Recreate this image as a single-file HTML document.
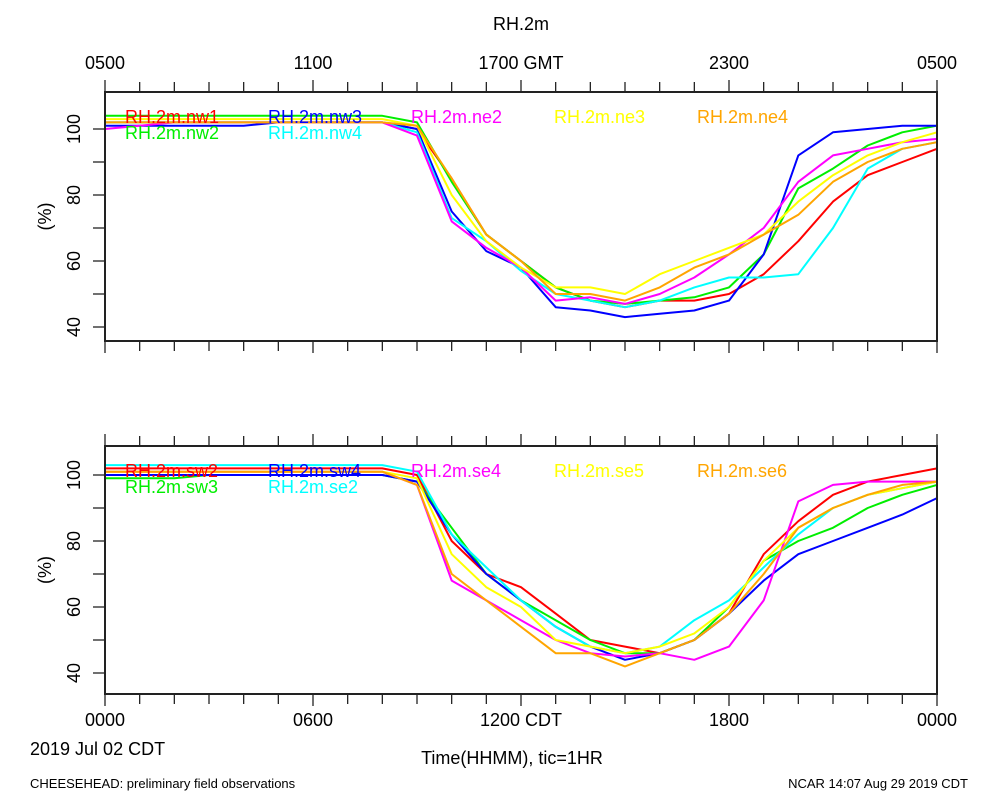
<!DOCTYPE html>
<html><head><meta charset="utf-8"><style>
html,body{margin:0;padding:0;background:#fff;}
svg{display:block;font-family:"Liberation Sans",sans-serif;}
</style></head><body>
<svg id="chart" width="1000" height="800" viewBox="0 0 1000 800" xmlns="http://www.w3.org/2000/svg">
<rect width="1000" height="800" fill="#fff"/>
<text x="521" y="30" font-size="18" text-anchor="middle">RH.2m</text>
<g id="g"></g>
<text x="30" y="755" font-size="18">2019 Jul 02 CDT</text>
<text x="512" y="764" font-size="18" text-anchor="middle">Time(HHMM), tic=1HR</text>
<text x="30" y="788" font-size="13">CHEESEHEAD: preliminary field observations</text>
<text x="968" y="788" font-size="13" text-anchor="end">NCAR 14:07 Aug 29 2019 CDT</text>
</svg>
<script>
const hours = [0,1,2,3,4,5,6,7,8,9,10,11,12,13,14,15,16,17,18,19,20,21,22,23,24];
const topNames = ["RH.2m.nw1","RH.2m.nw2","RH.2m.nw3","RH.2m.nw4","RH.2m.ne2","RH.2m.ne3","RH.2m.ne4"];
const botNames = ["RH.2m.sw2","RH.2m.sw3","RH.2m.sw4","RH.2m.se2","RH.2m.se4","RH.2m.se5","RH.2m.se6"];
const nw1 = [102,102,102,102,102,102,102,102,102,100,85,68,60,52,48,46,48,48,50,56,66,78,86,90,94];
const nw2 = [104,104,104,104,104,104,104,104,104,102,84,68,60,52,48,47,48,49,52,62,82,88,95,99,101];
const nw3 = [101,101,101,101,101,102,102,102,102,100,75,63,58,46,45,43,44,45,48,62,92,99,100,101,101];
const nw4 = [102,102,102,102,102,102,102,102,102,99,73,66,57,50,48,46,48,52,55,55,56,70,88,94,96];
const ne2 = [100,101,102,102,102,102,102,102,102,98,72,64,58,48,49,47,50,55,62,70,84,92,94,96,97];
const ne3 = [103,103,103,103,103,103,103,103,103,101,80,66,58,52,52,50,56,60,64,68,78,86,92,96,99];
const ne4 = [102,102,102,102,102,102,102,102,102,101,85,68,60,50,50,48,52,58,62,68,74,84,90,94,96];
const sw2 = [102,102,102,102,102,102,102,102,102,100,80,70,66,58,50,48,46,50,58,76,86,94,98,100,102];
const sw3 = [99,99,99,100,100,100,100,100,100,98,84,70,62,56,50,46,46,50,60,74,80,84,90,94,97];
const sw4 = [100,100,100,100,100,100,100,100,100,98,82,70,62,54,48,44,46,50,58,68,76,80,84,88,93];
const se2 = [103,103,103,103,103,103,103,103,103,101,82,72,62,54,48,46,48,56,62,72,82,90,94,96,98];
const se4 = [101,101,101,101,101,101,101,101,101,97,68,62,56,50,46,45,46,44,48,62,92,97,98,98,98];
const se5 = [101,101,101,101,101,101,101,101,101,99,76,66,60,50,48,46,48,52,60,74,84,90,94,96,98];
const se6 = [101,101,101,101,101,101,101,101,101,97,70,62,54,46,46,42,46,50,58,70,84,90,94,97,98];
const colors = ["#ff0000","#00ee00","#0000ff","#00ffff","#ff00ff","#ffff00","#ffa500"];
const topSeries = [nw1,nw2,nw3,nw4,ne2,ne3,ne4];
const botSeries = [sw2,sw3,sw4,se2,se4,se5,se6];
const yTicks = [40,60,80,100];
const xTopLabels = ["0500","1100","1700 GMT","2300","0500"];
const xBotLabels = ["0000","0600","1200 CDT","1800","0000"];

const NS = "http://www.w3.org/2000/svg";
const g = document.getElementById("g");
const X0 = 105, X1 = 937;
function xs(h){ return X0 + h*(X1-X0)/24; }
function mk(tag, attrs, parent){ const e=document.createElementNS(NS,tag); for(const k in attrs) e.setAttribute(k,attrs[k]); (parent||g).appendChild(e); return e; }

function panel(top, bottom, y100, series, names, xLabels, labelsAbove, pname){
  const pg = mk("g",{});
  
  
  const ys = v => y100 + (100 - v) * 3.3;
  // lines
  series.forEach((s,i)=>{
    const d = s.map((v,j)=>(j?"L":"M")+xs(hours[j]).toFixed(1)+","+ys(v).toFixed(1)).join(" ");
    const p = mk("path",{d:d,fill:"none",stroke:colors[i],"stroke-width":2,"stroke-linejoin":"round"},pg);
    
    
  });
  // legend
  names.forEach((n,i)=>{
    const col = Math.floor(i/2)<2 ? Math.floor(i/2) : i-2;
    const row = i<4 ? i%2 : 0;
    const t = mk("text",{x:125+col*143,y:top+31+row*16,"font-size":18,fill:colors[i]},pg);
    t.textContent = n;
    
    
  });
  // frame
  const f = mk("rect",{x:X0,y:top,width:X1-X0,height:bottom-top,fill:"none",stroke:"#222","stroke-width":2},pg);
  
  
  // x ticks
  for(let h=0;h<=24;h++){
    const L = h%6===0?12:10;
    mk("line",{x1:xs(h),x2:xs(h),y1:bottom,y2:bottom+L,stroke:"#222","stroke-width":1.3},pg);
    mk("line",{x1:xs(h),x2:xs(h),y1:top,y2:top-L,stroke:"#222","stroke-width":1.3},pg);
  }
  // y ticks
  for(let v=40; v<=100; v+=10){
    mk("line",{x1:X0-12,x2:X0,y1:ys(v),y2:ys(v),stroke:"#222","stroke-width":1.3},pg);
  }
  yTicks.forEach(v=>{
    const t = mk("text",{x:0,y:0,"font-size":18,"text-anchor":"middle",transform:`translate(80,${ys(v)}) rotate(-90)`},pg);
    t.textContent = v;
    
    
  });
  const yt = mk("text",{x:0,y:0,"font-size":18,"text-anchor":"middle",transform:`translate(51,${(top+bottom)/2}) rotate(-90)`},pg);
  yt.textContent = "(%)";
  
  
  if(xLabels){
    xLabels.forEach((l,i)=>{
      const t = mk("text",{x:xs(i*6),y:labelsAbove?top-23:bottom+32,"font-size":18,"text-anchor":"middle"},pg);
      t.textContent = l;
      
      
    });
  }
}
panel(92, 341, 129, topSeries, topNames, xTopLabels, true, "top-panel");
panel(446, 694, 475, botSeries, botNames, xBotLabels, false, "bottom-panel");
</script>
</body></html>
